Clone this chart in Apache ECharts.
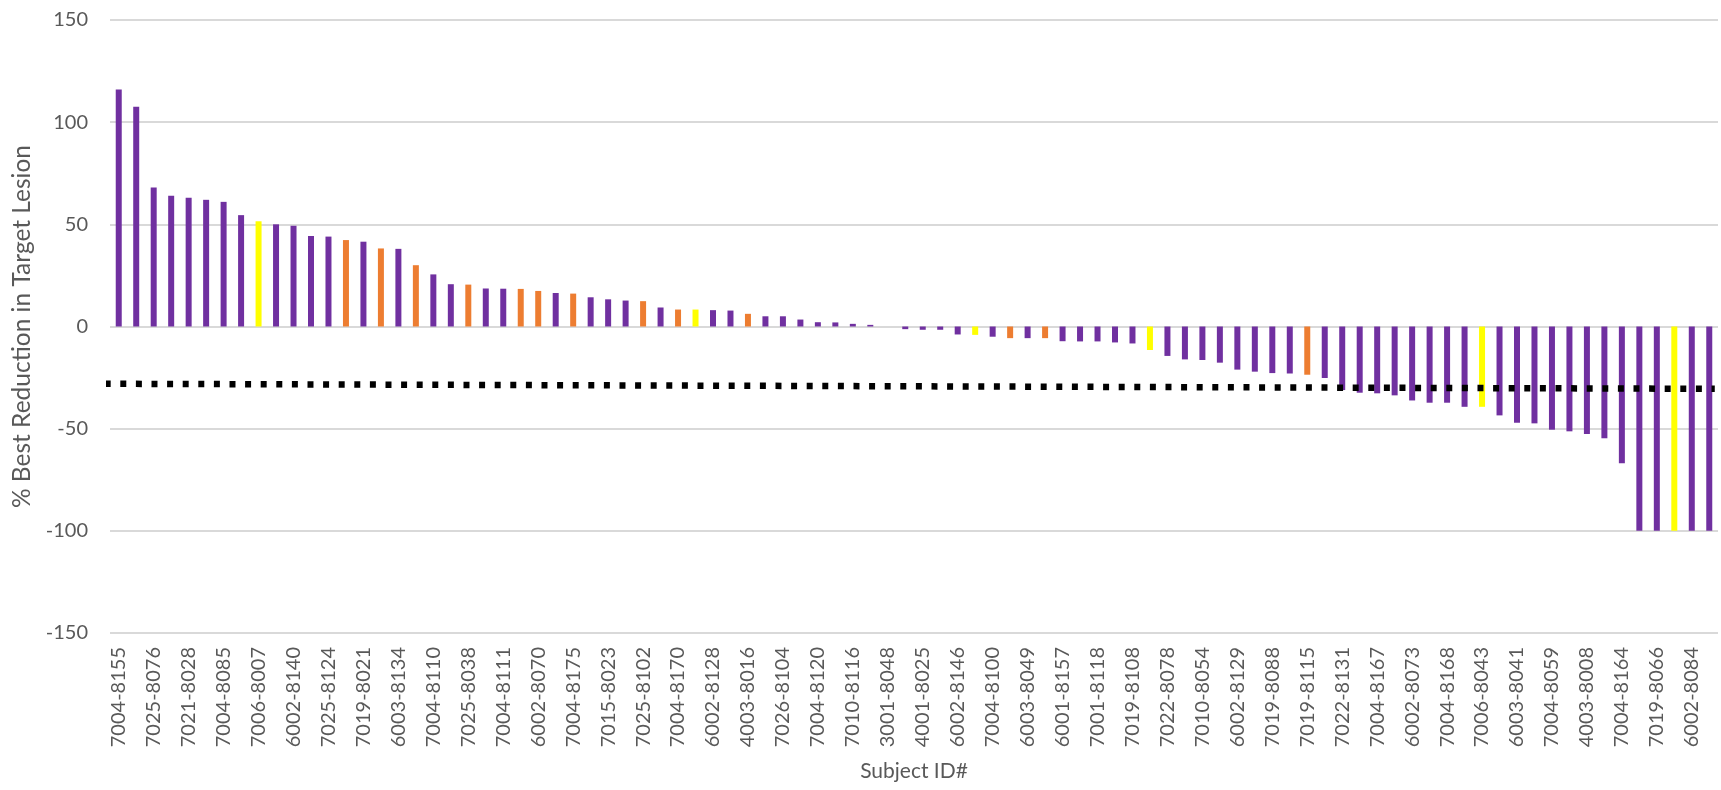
<!DOCTYPE html>
<html>
<head>
<meta charset="utf-8">
<script src="https://cdn.jsdelivr.net/npm/echarts@6/dist/echarts.min.js"></script>
<style>html,body{margin:0;padding:0;background:#fff;}#c{width:1721px;height:790px;}</style>
</head>
<body>
<div id="c"></div>
<script>
// Subject IDs shown on the axis (every other bar is labelled)
const labeledIds = ['7004-8155','7025-8076','7021-8028','7004-8085','7006-8007','6002-8140','7025-8124','7019-8021','6003-8134','7004-8110','7025-8038','7004-8111','6002-8070','7004-8175','7015-8023','7025-8102','7004-8170','6002-8128','4003-8016','7026-8104','7004-8120','7010-8116','3001-8048','4001-8025','6002-8146','7004-8100','6003-8049','6001-8157','7001-8118','7019-8108','7022-8078','7010-8054','6002-8129','7019-8088','7019-8115','7022-8131','7004-8167','6002-8073','7004-8168','7006-8043','6003-8041','7004-8059','4003-8008','7004-8164','7019-8066','6002-8084'];

// % best reduction in target lesion, one value per subject
const values = [116,107.5,68,64,63,62,61,54.5,51.5,50,
  49.3,44.3,44,42.3,41.5,38.2,38,30,25.5,20.7,
  20.5,18.6,18.5,18.4,17.4,16.4,16.1,14.3,13.3,12.7,
  12.4,9.3,8.3,8.3,8,7.8,6.2,5,5,3.4,
  2.1,2,1.3,0.8,0,-1.3,-1.6,-1.6,-3.9,-4.1,
  -5,-5.7,-5.7,-5.7,-7.2,-7.3,-7.3,-7.8,-8.3,-11.5,
  -14.4,-16.1,-16.4,-17.7,-21.1,-22.1,-22.8,-23,-23.6,-25.2,
  -31.1,-32.4,-32.7,-33.7,-36.2,-37.3,-37.3,-39.3,-39.3,-43.5,
  -47.1,-47.4,-50.5,-51.3,-52.6,-54.7,-66.9,-100,-100,-100,
  -100,-100];

// group code per subject: P = purple, O = orange, Y = yellow
const groups = ['P','P','P','P','P','P','P','P','Y','P',
  'P','P','P','O','P','O','P','O','P','P',
  'O','P','P','O','O','P','O','P','P','P',
  'O','P','O','Y','P','P','O','P','P','P',
  'P','P','P','P','P','P','P','P','P','Y',
  'P','O','P','O','P','P','P','P','P','Y',
  'P','P','P','P','P','P','P','P','O','P',
  'P','P','P','P','P','P','P','P','Y','P',
  'P','P','P','P','P','P','P','P','P','Y',
  'P','P'];

// threshold reference line (start, end)
const thresholdLine = [-28, -30.5];

const yTicks = {min: -150, max: 150, interval: 50};

const groupColors = {P: '#7030A0', O: '#ED7D31', Y: '#FFFF00'};

const categories = [];
for (let i = 0; i < values.length; i++) {
  categories.push(i % 2 === 0 ? labeledIds[i / 2] : '');
}

const barData = values.map((v, i) => ({value: v, itemStyle: {color: groupColors[groups[i]]}}));

const chart = echarts.init(document.getElementById('c'), null, {renderer: 'canvas'});
const font = 'Lato, "Open Sans", sans-serif';
chart.setOption({
  animation: false,
  grid: {left: 110, right: 3, top: 20, bottom: 157, containLabel: false},
  xAxis: [{
    type: 'category',
    data: categories,
    name: 'Subject ID#',
    nameLocation: 'middle',
    nameGap: 128,
    nameTextStyle: {color: '#595959', fontSize: 21, fontFamily: font},
    axisLine: {show: false, onZero: false},
    axisTick: {show: false},
    axisLabel: {interval: 0, rotate: 90, margin: 14, color: '#595959', fontSize: 20, fontFamily: font},
    splitLine: {show: false}
  }, {
    type: 'value', min: 0, max: 1, show: false
  }],
  yAxis: {
    type: 'value',
    min: yTicks.min, max: yTicks.max, interval: yTicks.interval,
    name: '% Best Reduction in Target Lesion',
    nameLocation: 'middle',
    nameGap: 73,
    nameTextStyle: {color: '#595959', fontSize: 24.5, fontFamily: font},
    axisLine: {show: false},
    axisTick: {show: false},
    axisLabel: {margin: 22, color: '#595959', fontSize: 20, fontFamily: font},
    splitLine: {lineStyle: {color: '#d9d9d9', width: 2}}
  },
  series: [{
    type: 'bar',
    data: barData,
    barWidth: 6,
    xAxisIndex: 0
  }, {
    type: 'line',
    xAxisIndex: 1,
    data: [[-0.013, thresholdLine[0]], [0.998, thresholdLine[1]]],
    clip: false,
    symbol: 'none',
    silent: true,
    z: 5,
    lineStyle: {color: '#000', width: 6.5, type: [6, 9.6], cap: 'butt'}
  }]
});
</script>
</body>
</html>
